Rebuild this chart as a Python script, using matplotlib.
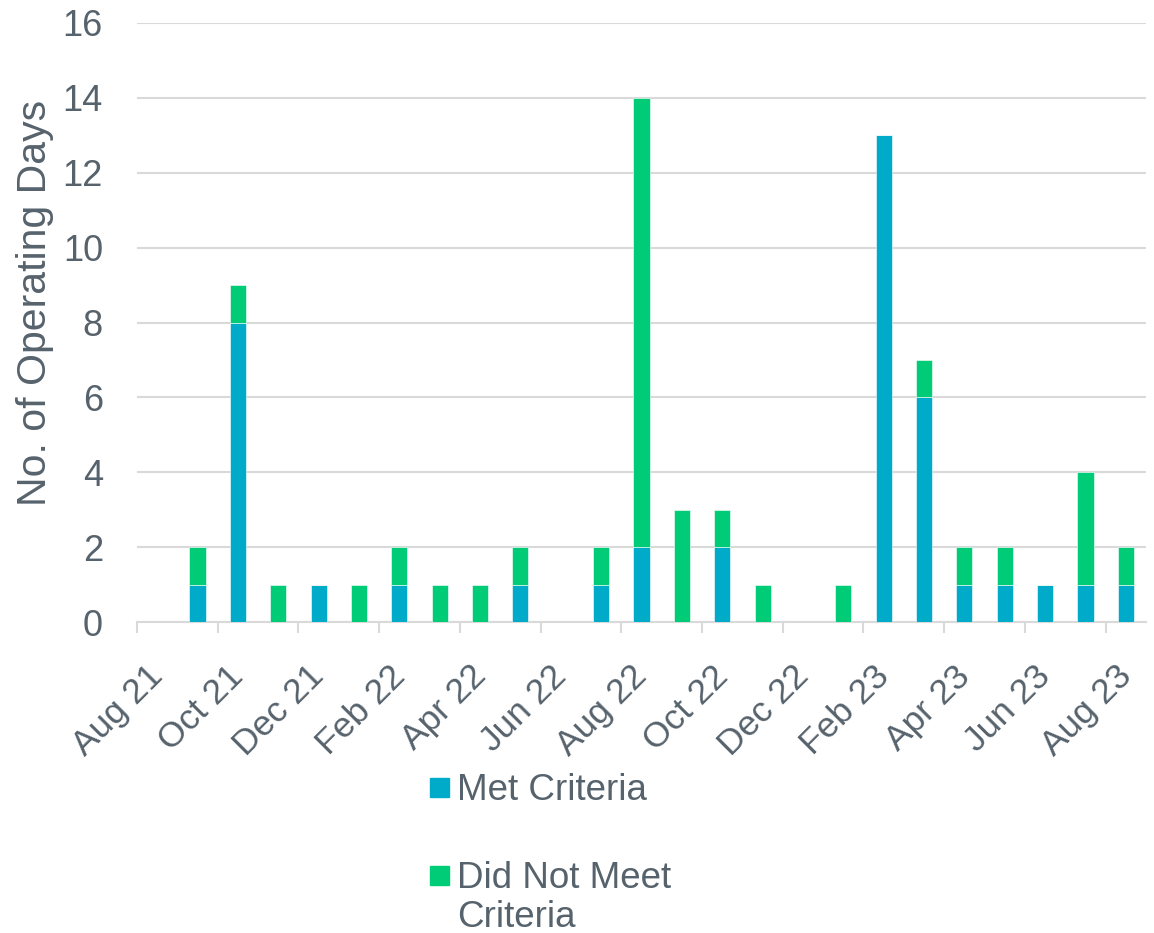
import matplotlib.pyplot as plt
from matplotlib.patches import Rectangle
from matplotlib.transforms import ScaledTranslation

plt.rcParams['font.family'] = ['Liberation Sans', 'DejaVu Sans']

# months Sep 21 .. Aug 23
months = ['Sep 21', 'Oct 21', 'Nov 21', 'Dec 21', 'Jan 22', 'Feb 22', 'Mar 22', 'Apr 22',
          'May 22', 'Jun 22', 'Jul 22', 'Aug 22', 'Sep 22', 'Oct 22', 'Nov 22', 'Dec 22',
          'Jan 23', 'Feb 23', 'Mar 23', 'Apr 23', 'May 23', 'Jun 23', 'Jul 23', 'Aug 23']
met = [1, 8, 0, 1, 0, 1, 0, 0, 1, 0, 1, 2, 0, 2, 0, 0, 0, 13, 6, 1, 1, 1, 1, 1]
not_met = [1, 1, 1, 0, 1, 1, 1, 1, 1, 0, 1, 12, 3, 1, 1, 0, 1, 0, 1, 1, 1, 0, 3, 1]
tick_labels = ['Aug 21', 'Oct 21', 'Dec 21', 'Feb 22', 'Apr 22', 'Jun 22', 'Aug 22',
               'Oct 22', 'Dec 22', 'Feb 23', 'Apr 23', 'Jun 23', 'Aug 23']
series_names = ['Met Criteria', 'Did Not Meet\nCriteria']

blue = '#00AAC9'
green = '#00CC78'
txt = '#56626C'
grid = '#D9D9D9'

W, H = 1154, 933
fig = plt.figure(figsize=(W / 100, H / 100), dpi=100)
ax = fig.add_axes([137 / W, 1 - 622 / H, (1146 - 137) / W, (622 - 23) / H])

x = [i + 1.5 for i in range(len(months))]
ax.bar(x, met, width=0.4, color=blue, edgecolor='white', linewidth=0.4, zorder=3)
ax.bar(x, not_met, width=0.4, bottom=met, color=green, edgecolor='white', linewidth=0.4, zorder=3)

ax.set_xlim(0, 25)
ax.set_ylim(0, 16)
ax.set_yticks(range(0, 17, 2))
ax.set_xticks(range(0, 25, 2))
ax.set_xticklabels(tick_labels, rotation=45, ha='right', va='top', rotation_mode='anchor')

ax.grid(axis='y', color=grid, linewidth=1.5, zorder=0)
for s in ['top', 'right', 'left']:
    ax.spines[s].set_visible(False)
ax.spines['bottom'].set_color(grid)
ax.spines['bottom'].set_linewidth(1.5)
ax.tick_params(axis='y', length=0, pad=24.5, labelsize=26, labelcolor=txt)
ax.tick_params(axis='x', length=8, width=1.5, color=grid, pad=19, labelsize=25.5, labelcolor=txt)

# shift rotated labels so their ends sit right of the tick, like the original
shift = ScaledTranslation(0.09, 0, fig.dpi_scale_trans)
for lab in ax.get_xticklabels():
    lab.set_transform(lab.get_transform() + shift)

fig.text(35 / W, 1 - 303 / H, 'No. of Operating Days', rotation=90, ha='center', va='center',
         fontsize=29.5, color=txt)

# legend below the chart
colors = [blue, green]
sq_y = [787, 875]
for c, yc, name in zip(colors, sq_y, series_names):
    fig.patches.append(Rectangle((430 / W, 1 - (yc + 9.5) / H), 19 / W, 19 / H,
                                 transform=fig.transFigure, color=c))
    for k, line in enumerate(name.split('\n')):
        fig.text(457 / W, 1 - (yc + 13 + 39 * k) / H, line, ha='left', va='baseline',
                 fontsize=26.5, color=txt)

fig.savefig('out.png', dpi=100)
